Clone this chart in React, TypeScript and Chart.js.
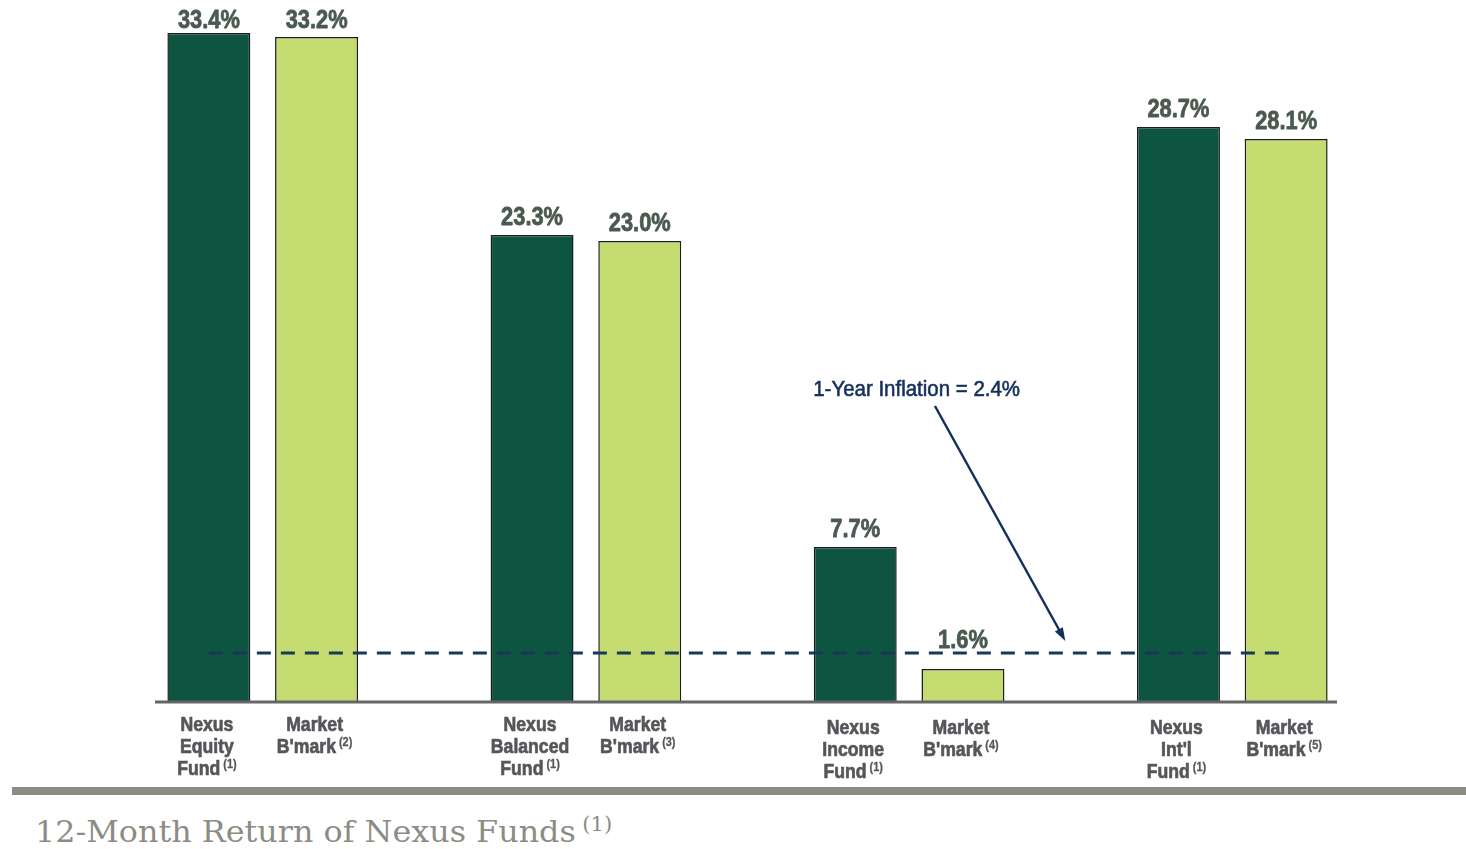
import React, { useEffect, useRef } from "react";
import { Chart, registerables } from "chart.js";

Chart.register(...registerables);

const labelLines: string[][] = [
  ["Nexus", "Equity", "Fund"],
  ["Market", "B'mark"],
  [],
  ["Nexus", "Balanced", "Fund"],
  ["Market", "B'mark"],
  [],
  ["Nexus", "Income", "Fund"],
  ["Market", "B'mark"],
  [],
  ["Nexus", "Int'l", "Fund"],
  ["Market", "B'mark"],
];
const footnotes = ["(1)", "(2)", "", "(1)", "(3)", "", "(1)", "(4)", "", "(1)", "(5)"];
const returns: (number | null)[] = [33.4, 33.2, null, 23.3, 23.0, null, 7.7, 1.6, null, 28.7, 28.1];
const isFund = [true, false, false, true, false, false, true, false, false, true, false];
const inflation = 2.4;
const annotationText = "1-Year Inflation = 2.4%";
const titleText = "12-Month Return of Nexus Funds";
const titleNote = "(1)";

const DARK = "#0d5541";
const LIGHT = "#c5dc70";
const NAVY = "#16305c";
const SANS = "'Liberation Sans', Arial, sans-serif";

function measure(ctx: CanvasRenderingContext2D, text: string, font: string, sx: number) {
  ctx.save();
  ctx.font = font;
  const w = ctx.measureText(text).width * sx;
  ctx.restore();
  return w;
}

function drawText(
  ctx: CanvasRenderingContext2D,
  text: string,
  x: number,
  y: number,
  font: string,
  sx: number,
  align: CanvasTextAlign,
  color: string,
  stroke = 0
) {
  ctx.save();
  ctx.font = font;
  ctx.fillStyle = color;
  ctx.textAlign = align;
  ctx.textBaseline = "alphabetic";
  ctx.translate(x, y);
  ctx.scale(sx, 1);
  ctx.fillText(text, 0, 0);
  if (stroke > 0) {
    ctx.strokeStyle = color;
    ctx.lineWidth = stroke;
    ctx.lineJoin = "round";
    ctx.strokeText(text, 0, 0);
  }
  ctx.restore();
}

const overlayPlugin = {
  id: "overlay",
  afterDatasetsDraw(chart: any) {
    const { ctx, chartArea, scales } = chart;
    const xs = scales.x;
    const ys = scales.y;
    ctx.save();
    // baseline axis
    ctx.strokeStyle = "#666666";
    ctx.lineWidth = 3;
    ctx.beginPath();
    ctx.moveTo(chartArea.left, ys.getPixelForValue(0) + 1);
    ctx.lineTo(chartArea.right - 3, ys.getPixelForValue(0) + 1);
    ctx.stroke();

    // data labels
    const lineY = ys.getPixelForValue(inflation);
    returns.forEach((v, i) => {
      if (v == null) return;
      const x = xs.getPixelForValue(i);
      const top = ys.getPixelForValue(v);
      let by = Math.max(top - 10, 28);
      if (by > lineY - 4 && by - 20 < lineY + 2) by = lineY - 5;
      drawText(ctx, v.toFixed(1) + "%", x, by, `bold 26px ${SANS}`, 0.84, "center", "#4b5a51", 0.8);
    });

    // category labels
    const mainFont = `bold 21px ${SANS}`;
    const noteFont = `bold 13px ${SANS}`;
    const sx = 0.84;
    labelLines.forEach((lines, i) => {
      if (!lines.length) return;
      const cx = xs.getPixelForValue(i) - 2;
      lines.forEach((line, li) => {
        const baseY = chartArea.bottom + 30 + li * 22 + (i >= 6 ? 3 : 0);
        const isLast = li === lines.length - 1;
        const w1 = measure(ctx, line, mainFont, sx);
        const w2 = isLast ? measure(ctx, footnotes[i], noteFont, sx) + 3 : 0;
        const start = cx - (w1 + w2) / 2;
        drawText(ctx, line, start, baseY, mainFont, sx, "left", "#55575a", 0.7);
        if (isLast) drawText(ctx, footnotes[i], start + w1 + 3, baseY - 7, noteFont, sx, "left", "#55575a", 0.3);
      });
    });

    // annotation text
    const tx = xs.getPixelForValue(6.57);
    const ty = ys.getPixelForValue(15.25);
    drawText(ctx, annotationText, tx, ty, `22px ${SANS}`, 0.93, "center", NAVY, 0.6);

    // arrow
    const x1 = xs.getPixelForValue(6.74);
    const y1 = ys.getPixelForValue(14.75);
    const x2 = xs.getPixelForValue(7.95);
    const y2 = ys.getPixelForValue(3.0);
    ctx.strokeStyle = NAVY;
    ctx.lineWidth = 2.5;
    ctx.beginPath();
    ctx.moveTo(x1, y1);
    const ang = Math.atan2(y2 - y1, x2 - x1);
    ctx.lineTo(x2 - 8 * Math.cos(ang), y2 - 8 * Math.sin(ang));
    ctx.stroke();
    const hl = 14;
    ctx.fillStyle = NAVY;
    ctx.beginPath();
    ctx.moveTo(x2, y2);
    ctx.lineTo(x2 - hl * Math.cos(ang - 0.33), y2 - hl * Math.sin(ang - 0.33));
    ctx.lineTo(x2 - hl * Math.cos(ang + 0.33), y2 - hl * Math.sin(ang + 0.33));
    ctx.closePath();
    ctx.fill();
    ctx.restore();
  },
};

export default function App() {
  const ref = useRef<HTMLCanvasElement | null>(null);
  useEffect(() => {
    if (!ref.current) return;
    const chart = new Chart(ref.current, {
      type: "bar",
      data: {
        labels: labelLines.map((l) => l.join(" ")),
        datasets: [
          {
            type: "line",
            data: returns.map(() => inflation),
            borderColor: "#1b365d",
            borderWidth: 3,
            borderDash: [14, 10],
            pointRadius: 0,
            fill: false,
            order: 0,
          } as any,
          {
            type: "bar",
            data: returns,
            backgroundColor: isFund.map((f) => (f ? DARK : LIGHT)),
            borderColor: "#1c1c1c",
            borderWidth: 1.5,
            barPercentage: 0.77,
            categoryPercentage: 1,
            order: 1,
          },
        ],
      },
      options: {
        responsive: false,
        animation: false,
        layout: { padding: { left: 155, right: 126, top: 1, bottom: 79 } },
        plugins: { legend: { display: false }, tooltip: { enabled: false } },
        scales: {
          x: { display: false },
          y: { display: false, min: 0, max: 35 },
        },
      },
      plugins: [overlayPlugin],
    });
    return () => chart.destroy();
  }, []);

  return (
    <div style={{ position: "absolute", left: 0, top: 0, width: 1466, height: 849, background: "#fff", overflow: "hidden" }}>
      <canvas ref={ref} width={1466} height={780} style={{ position: "absolute", left: 0, top: 0 }} />
      <div style={{ position: "absolute", left: 12, top: 787, width: 1454, height: 8, background: "#8b8c84" }} />
      <div
        style={{
          position: "absolute",
          left: 35,
          top: 812,
          fontFamily: "'DejaVu Serif', serif",
          fontSize: 30,
          color: "#8c8c84",
          whiteSpace: "nowrap",
          lineHeight: "40px",
          transform: "scaleX(1.06)",
          transformOrigin: "left top",
        }}
      >
        {titleText}
        <span style={{ fontSize: 20, position: "relative", top: -11, marginLeft: 6 }}>{titleNote}</span>
      </div>
    </div>
  );
}
